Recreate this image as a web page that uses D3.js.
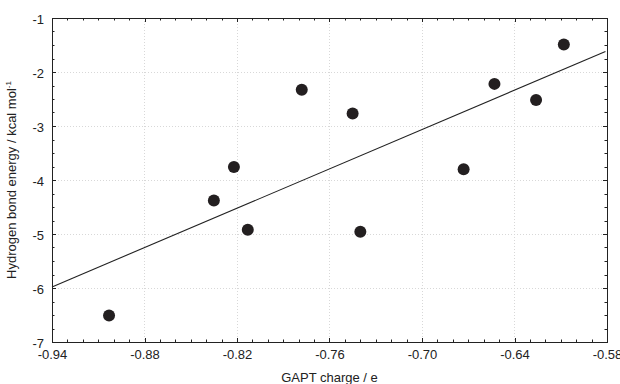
<!DOCTYPE html>
<html>
<head>
<meta charset="utf-8">
<script src="https://cdn.jsdelivr.net/npm/d3@7"></script>
<style>
  body { margin: 0; background: #fff; }
  text { font-family: "Liberation Sans", Arial, sans-serif; fill: #222; }
</style>
</head>
<body>
<div id="chart"></div>
<script>
// Chart data
var gaptCharge = [-0.903, -0.835, -0.822, -0.813, -0.778, -0.745, -0.740, -0.673, -0.653, -0.626, -0.608];
var bondEnergy = [-6.51, -4.38, -3.76, -4.92, -2.33, -2.77, -4.96, -3.80, -2.22, -2.52, -1.49];
var fitX = [-0.94, -0.581];
var fitY = [-5.98, -1.62];
var xTicks = [-0.94, -0.88, -0.82, -0.76, -0.70, -0.64, -0.58];
var yTicks = [-1, -2, -3, -4, -5, -6, -7];

// Set up chart
var svgWidth = 620;
var svgHeight = 384;
var margin = { top: 18, right: 13, bottom: 42, left: 52 };
var width = svgWidth - margin.left - margin.right;
var height = svgHeight - margin.top - margin.bottom;

var svg = d3.select("#chart")
  .append("svg")
  .attr("width", svgWidth)
  .attr("height", svgHeight);

var chartGroup = svg.append("g")
  .attr("transform", `translate(${margin.left}, ${margin.top})`);

var xScale = d3.scaleLinear().domain([-0.94, -0.58]).range([0, width]);
var yScale = d3.scaleLinear().domain([-7, -1]).range([height, 0]);

var minorX = d3.range(0, 37).map(i => -0.94 + i * 0.01);
var minorY = d3.range(0, 25).map(i => -7 + i * 0.25);

// dotted grid at major ticks
chartGroup.append("g")
  .selectAll("line")
  .data(xTicks.slice(1, -1))
  .enter()
  .append("line")
  .attr("x1", d => Math.round(xScale(d)) + 0.5).attr("x2", d => Math.round(xScale(d)) + 0.5)
  .attr("y1", 0).attr("y2", height)
  .attr("stroke", "#d8d8d8")
  .attr("stroke-dasharray", "1,2");

chartGroup.append("g")
  .selectAll("line")
  .data(yTicks.slice(1, -1))
  .enter()
  .append("line")
  .attr("y1", d => Math.round(yScale(d)) + 0.5).attr("y2", d => Math.round(yScale(d)) + 0.5)
  .attr("x1", 0).attr("x2", width)
  .attr("stroke", "#d8d8d8")
  .attr("stroke-dasharray", "1,2");

// axes with inward ticks, on all four sides
function fmt(d) { return d3.format(".2f")(d).replace("−", "-"); }

var bottomAxis = d3.axisBottom(xScale).tickValues(xTicks).tickSize(0).tickPadding(8).tickFormat(fmt);
var leftAxis = d3.axisLeft(yScale).tickValues(yTicks).tickSize(0).tickPadding(8).tickFormat(d => String(d));

var xAxis = chartGroup.append("g")
  .attr("transform", `translate(0, ${height})`)
  .call(bottomAxis);
var yAxis = chartGroup.append("g").call(leftAxis);

[xAxis, yAxis].forEach(function (ax) {
  ax.select(".domain").remove();
  ax.selectAll("text")
    .attr("font-size", "13px")
    .attr("font-family", "Liberation Sans, Arial, sans-serif")
    .attr("fill", "#222");
});
yAxis.selectAll("text").attr("dy", "0.4em");

var tickGroup = chartGroup.append("g").attr("stroke", "#222").attr("stroke-width", 1);
minorX.forEach(function (d) {
  var major = xTicks.some(t => Math.abs(t - d) < 1e-6);
  var len = major ? 4 : 2.5;
  var x = Math.round(xScale(d)) + 0.5;
  tickGroup.append("line").attr("x1", x).attr("x2", x).attr("y1", height).attr("y2", height - len);
  tickGroup.append("line").attr("x1", x).attr("x2", x).attr("y1", 0).attr("y2", len);
});
minorY.forEach(function (d) {
  var major = yTicks.some(t => Math.abs(t - d) < 1e-6);
  var len = major ? 4 : 2.5;
  var y = Math.round(yScale(d)) + 0.5;
  tickGroup.append("line").attr("y1", y).attr("y2", y).attr("x1", 0).attr("x2", len);
  tickGroup.append("line").attr("y1", y).attr("y2", y).attr("x1", width).attr("x2", width - len);
});

// frame
chartGroup.append("rect")
  .attr("x", 0.5).attr("y", 0.5)
  .attr("width", width).attr("height", height)
  .attr("fill", "none")
  .attr("stroke", "#222");

// regression line
chartGroup.append("line")
  .attr("x1", xScale(fitX[0])).attr("y1", yScale(fitY[0]))
  .attr("x2", xScale(fitX[1])).attr("y2", yScale(fitY[1]))
  .attr("stroke", "#222")
  .attr("stroke-width", 1.1);

// points
chartGroup.selectAll("circle")
  .data(gaptCharge)
  .enter()
  .append("circle")
  .attr("cx", (d, i) => xScale(d))
  .attr("cy", (d, i) => yScale(bondEnergy[i]))
  .attr("r", 6)
  .attr("fill", "#231f20");

// axis titles
svg.append("text")
  .attr("x", margin.left + width / 2)
  .attr("y", 382)
  .attr("text-anchor", "middle")
  .attr("font-size", "13px")
  .text("GAPT charge / e");

var yTitle = svg.append("text")
  .attr("transform", `translate(16, ${margin.top + height / 2}) rotate(-90)`)
  .attr("text-anchor", "middle")
  .attr("font-size", "13px");
yTitle.append("tspan").text("Hydrogen bond energy / kcal mol");
yTitle.append("tspan").attr("font-size", "8px").attr("dy", "-5").text("-1");
</script>
</body>
</html>
